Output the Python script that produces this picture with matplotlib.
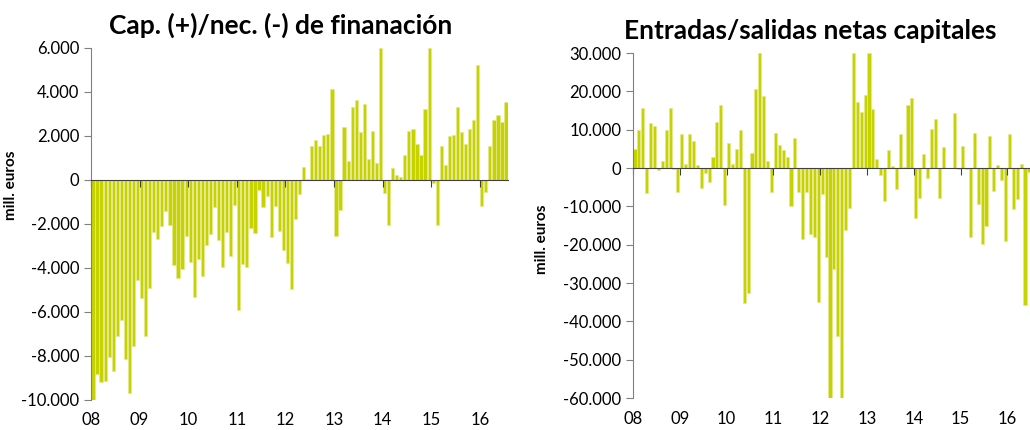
import numpy as np
import matplotlib
matplotlib.use("Agg")
import matplotlib.pyplot as plt
from matplotlib.ticker import FuncFormatter

plt.rcParams['font.family'] = ['Lato', 'DejaVu Sans']

# Capacidad/necesidad de financiación, mill. euros (ene 2008 - jul 2016)
cap = ([-9990, -8800, -9200, -9150, -8050, -8700, -7100, -6350, -8150, -9700, -7550, -4550]
       + [-5350, -7100, -4900, -2350, -2700, -2100, -1400, -2050, -3850, -4450, -4050, -2550]
       + [-3740, -5330, -3590, -4380, -2970, -2450, -1240, -2740, -3940, -2380, -3450, -1150]
       + [-5890, -3820, -3940, -2200, -2410, -440, -1210, -730, -2610, -1170, -2300, -3180]
       + [-3760, -4950, -1790, -640, 580, 50, 1560, 1830, 1560, 2060, 2090, 4110]
       + [-2560, -1380, 2380, 880, 3320, 3610, 2170, 3440, 950, 2240, 770, 6000]
       + [-610, -2060, 520, 240, 150, 1120, 2200, 2290, 1610, 1150, 3230, 6000]
       + [-140, -2060, 1550, 670, 1980, 2020, 3330, 2170, 1650, 2320, 2740, 5240]
       + [-1180, -550, 1550, 2730, 2970, 2650, 3550])

# Entradas/salidas netas de capitales, mill. euros (ene 2008 - jun 2016)
flujos = ([5000, 9900, 15700, -6500, 11900, 11000, -400, 1900, 9900, 15700, -200, -6200]
          + [9000, 1000, 9000, 7000, 800, -5100, -1200, -3700, 3000, 12100, 16400, -9600]
          + [6600, 1000, 5000, 9900, -35300, -32500, 4000, 20700, 30000, 18700, 1800, -6200]
          + [9100, 6100, 4600, 2900, -9900, 7800, -6200, -18600, -6300, -17100, -18100, -34900]
          + [-6700, -23200, -60000, -26300, -43700, -60000, -16100, -10500, 30000, 17300, 14700, 19100]
          + [30000, 15500, 2400, -1900, -8700, 4700, 600, -5500, 9000, 250, 16400, 18300]
          + [-12900, -7900, 3700, -2700, 10100, 12900, -7900, 5500, 0, 0, 14400, -300]
          + [5800, -300, -18000, 9100, -9400, -19700, -15000, 8300, -6100, 800, -3100, -19100]
          + [9000, -10800, -8100, 1000, -35800, -1000])

years = ['08', '09', '10', '11', '12', '13', '14', '15', '16']
n_months = 103

bar_color = '#c6d300'
edge_color = '#e4ea90'


def miles(v, pos):
    return '{:,.0f}'.format(v).replace(',', '.')


def panel(ax, values, title, title_x, ylim, ystep, label_xy):
    x = np.arange(len(values))
    ax.bar(x, values, width=0.8, color=bar_color, edgecolor=edge_color, linewidth=0.5)
    ax.set_xlim(-0.5, n_months - 0.5)
    ax.set_ylim(*ylim)
    ax.set_yticks(np.arange(ylim[0], ylim[1] + 1, ystep))
    ax.yaxis.set_major_formatter(FuncFormatter(miles))
    ax.tick_params(axis='y', labelsize=12, direction='out', length=5, color='#808080')

    # eje x en el cero, etiquetas de año abajo
    ticks = np.arange(len(years)) * 12 - 0.5
    ax.spines['bottom'].set_position(('data', 0))
    ax.spines['bottom'].set_color('#404040')
    ax.set_xticks(ticks)
    ax.set_xticklabels([])
    ax.tick_params(axis='x', direction='out', length=5, color='#404040')
    sec = ax.secondary_xaxis(0)
    sec.set_xticks(ticks, years)
    sec.tick_params(length=0, labelsize=12, pad=9)
    sec.spines['bottom'].set_visible(False)

    ax.spines['top'].set_visible(False)
    ax.spines['right'].set_visible(False)
    ax.spines['left'].set_color('#808080')

    ax.set_ylabel('mill. euros', fontsize=11, fontweight='bold')
    ax.yaxis.set_label_coords(*label_xy)
    ax.set_title(title, fontsize=19, fontweight='bold', pad=10, x=title_x)


fig = plt.figure(figsize=(10.3, 4.3), dpi=100)
ax1 = fig.add_axes([0.0883, 0.0698, 0.405, 0.819])
ax2 = fig.add_axes([0.6146, 0.0744, 0.39, 0.802])

panel(ax1, cap, 'Cap. (+)/nec. (-) de finanación', 0.455, (-10000, 6000), 2000, (-0.175, 0.61))
panel(ax2, flujos, 'Entradas/salidas netas capitales', 0.44, (-60000, 30000), 10000, (-0.21, 0.46))

fig.savefig('out.png', dpi=100)
